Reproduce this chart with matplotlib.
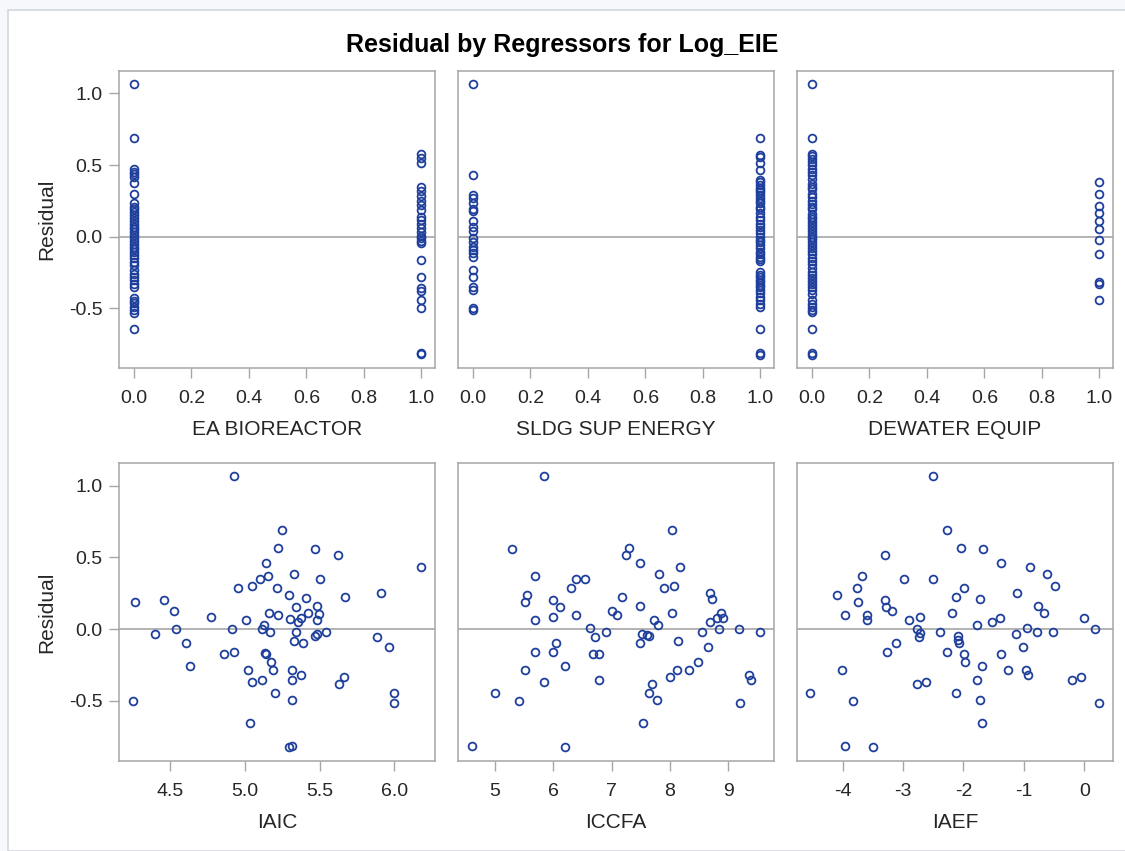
import matplotlib
matplotlib.use("Agg")
import matplotlib.pyplot as plt
from matplotlib.patches import Rectangle

plt.rcParams['font.family'] = ['Liberation Sans', 'DejaVu Sans']

# ---- data ----
title = "Residual by Regressors for Log_EIE"
top_labels = ["EA BIOREACTOR", "SLDG SUP ENERGY", "DEWATER EQUIP"]
bottom_labels = ["IAIC", "ICCFA", "IAEF"]

# indicator regressors: residuals at 0 and at 1
ea_res_0 = [1.063, 0.691, 0.472, 0.453, 0.437, 0.419, 0.377, 0.298, 0.233, 0.209,
            0.19, 0.17, 0.15, 0.13, 0.11, 0.09, 0.07, 0.05, 0.03, 0.01, -0.01,
            -0.03, -0.05, -0.07, -0.09, -0.11, -0.13, -0.15, -0.174, -0.20,
            -0.233, -0.26, -0.28, -0.30, -0.33, -0.35, -0.43, -0.449, -0.465,
            -0.493, -0.512, -0.535, -0.649]
ea_res_1 = [0.577, 0.551, 0.516, 0.349, 0.321, 0.284, 0.249, 0.221, 0.186, 0.140,
            0.116, 0.088, 0.058, 0.030, 0.007, -0.012, -0.030, -0.047, -0.160,
            -0.284, -0.360, -0.377, -0.442, -0.502, -0.814, -0.823]

sldg_res_0 = [1.063, 0.430, 0.291, 0.267, 0.237, 0.191, 0.181, 0.109, 0.067, 0.040,
              -0.012, -0.035, -0.070, -0.093, -0.112, -0.140, -0.233, -0.284,
              -0.353, -0.372, -0.500, -0.516]
sldg_res_1 = [0.691, 0.570, 0.553, 0.512, 0.465, 0.395, 0.384, 0.36, 0.343, 0.326,
              0.31, 0.291, 0.27, 0.25, 0.233, 0.21, 0.19, 0.163, 0.14, 0.116, 0.09,
              0.070, 0.045, 0.023, 0.0, -0.023, -0.04, -0.058, -0.08, -0.105, -0.12,
              -0.14, -0.155, -0.167, -0.244, -0.267, -0.285, -0.302, -0.32, -0.337,
              -0.355, -0.372, -0.395, -0.42, -0.442, -0.47, -0.493, -0.649, -0.814,
              -0.826]

dew_res_0 = [1.063, 0.691, 0.58, 0.56, 0.54, 0.52, 0.50, 0.47, 0.45, 0.43, 0.40,
             0.37, 0.35, 0.33, 0.30, 0.28, 0.25, 0.23, 0.21, 0.19, 0.16, 0.14,
             0.12, 0.10, 0.08, 0.06, 0.04, 0.02, 0.0, -0.02, -0.04, -0.06, -0.08,
             -0.10, -0.12, -0.15, -0.17, -0.19, -0.22, -0.25, -0.27, -0.29, -0.31,
             -0.33, -0.35, -0.37, -0.40, -0.44, -0.47, -0.49, -0.51, -0.53, -0.649,
             -0.814, -0.826]
dew_res_1 = [0.384, 0.298, 0.214, 0.163, 0.112, 0.051, -0.023, -0.121, -0.319,
             -0.330, -0.442]

# continuous regressors
iaic_x = [4.926, 5.245, 5.222, 5.471, 5.622, 6.178, 5.138, 5.154, 5.102, 5.328,
          5.504, 4.951, 5.044, 5.212, 5.295, 5.411, 5.672, 5.908, 4.266, 4.455,
          4.527, 4.772, 5.009, 5.163, 5.222, 5.339, 5.481, 5.493, 5.304, 5.375,
          5.355, 5.481, 5.421, 4.538, 4.915, 5.112, 5.127, 5.165, 5.342, 5.469,
          5.481, 5.542, 4.395, 5.881, 5.966, 4.608, 5.326, 5.388, 4.857, 4.926,
          5.134, 5.138, 5.174, 5.187, 4.629, 5.022, 5.315, 5.375, 5.046, 5.116,
          5.315, 5.665, 5.627, 5.198, 4.252, 5.315, 6.000, 6.000, 5.033, 5.295,
          5.317]
iaic_res = [1.063, 0.693, 0.567, 0.558, 0.519, 0.435, 0.458, 0.372, 0.349, 0.384,
            0.349, 0.286, 0.300, 0.286, 0.237, 0.214, 0.226, 0.249, 0.186, 0.200,
            0.123, 0.088, 0.063, 0.112, 0.102, 0.151, 0.163, 0.105, 0.074, 0.081,
            0.047, 0.063, 0.114, 0.002, 0.002, 0.002, 0.030, -0.023, -0.023, -0.047,
            -0.035, -0.023, -0.033, -0.058, -0.121, -0.095, -0.084, -0.095, -0.170,
            -0.158, -0.163, -0.170, -0.230, -0.281, -0.256, -0.281, -0.281, -0.319,
            -0.367, -0.353, -0.353, -0.330, -0.379, -0.442, -0.502, -0.491, -0.442,
            -0.514, -0.651, -0.821, -0.814]

iccfa_x = [5.851, 8.029, 5.303, 7.303, 7.240, 7.480, 8.171, 7.817, 5.697, 6.389,
           6.549, 6.303, 7.903, 8.063, 5.549, 5.520, 7.177, 8.691, 8.726, 6.000,
           6.126, 7.480, 5.697, 6.000, 6.389, 7.000, 7.091, 8.029, 7.720, 7.789,
           8.874, 8.800, 8.914, 8.680, 8.840, 9.177, 9.537, 6.634, 6.720, 6.903,
           7.526, 7.600, 7.640, 7.480, 8.143, 8.543, 8.657, 6.057, 5.697, 6.000,
           6.691, 6.789, 6.211, 5.520, 8.474, 8.320, 8.120, 7.994, 5.851, 6.789,
           7.691, 7.634, 7.783, 9.354, 9.389, 5.006, 5.423, 9.206, 7.543, 4.611,
           6.211]
iccfa_res = [1.063, 0.693, 0.558, 0.567, 0.519, 0.458, 0.435, 0.384, 0.372, 0.349,
             0.349, 0.286, 0.286, 0.298, 0.237, 0.186, 0.226, 0.249, 0.212, 0.200,
             0.151, 0.163, 0.063, 0.088, 0.102, 0.126, 0.102, 0.112, 0.065, 0.028,
             0.114, 0.077, 0.077, 0.051, 0.002, 0.002, -0.023, 0.005, -0.058, -0.023,
             -0.033, -0.044, -0.049, -0.095, -0.084, -0.023, -0.121, -0.095, -0.158,
             -0.158, -0.170, -0.170, -0.256, -0.281, -0.230, -0.281, -0.281, -0.330,
             -0.367, -0.353, -0.379, -0.442, -0.491, -0.319, -0.356, -0.442, -0.502,
             -0.514, -0.651, -0.812, -0.823]

iaef_x = [-2.508, -2.276, -2.044, -1.669, -3.298, -1.376, -0.906, -0.613, -0.492,
          -3.680, -2.978, -2.508, -3.768, -1.983, -2.127, -1.724, -1.105, -4.083,
          -3.740, -3.298, -3.276, -3.177, -0.762, -0.669, -3.967, -3.591, -3.591,
          -2.895, -2.713, -2.188, -1.773, -1.519, -1.398, 0.000, 0.177, -0.956,
          -2.773, -2.713, -2.740, -2.387, -2.094, -2.094, -2.066, -1.133, -0.785,
          -0.514, -1.017, -3.116, -3.265, -2.276, -1.983, -1.370, -1.978, -1.691,
          -4.006, -1.254, -0.961, -0.934, -1.773, -2.773, -2.624, -0.199, -0.050,
          -4.530, -2.127, -3.829, -1.718, 0.243, -1.690, -3.967, -3.497]
iaef_res = [1.063, 0.693, 0.567, 0.558, 0.519, 0.458, 0.435, 0.384, 0.298, 0.372,
            0.349, 0.349, 0.286, 0.286, 0.226, 0.212, 0.249, 0.237, 0.186, 0.200,
            0.151, 0.126, 0.163, 0.114, 0.102, 0.102, 0.063, 0.063, 0.088, 0.112,
            0.028, 0.051, 0.077, 0.077, 0.002, 0.005, 0.002, -0.028, -0.058, -0.023,
            -0.047, -0.077, -0.095, -0.035, -0.023, -0.023, -0.121, -0.095, -0.158,
            -0.158, -0.170, -0.170, -0.230, -0.256, -0.281, -0.281, -0.281, -0.319,
            -0.353, -0.379, -0.367, -0.353, -0.330, -0.442, -0.442, -0.502, -0.491,
            -0.514, -0.651, -0.812, -0.823]

top_ticks = [0.0, 0.2, 0.4, 0.6, 0.8, 1.0]
iaic_ticks = [4.5, 5.0, 5.5, 6.0]
iccfa_ticks = [5, 6, 7, 8, 9]
iaef_ticks = [-4, -3, -2, -1, 0]
res_ticks = [-0.5, 0.0, 0.5, 1.0]

# ---- figure ----
W, H = 1125, 851
fig = plt.figure(figsize=(W / 100, H / 100), dpi=100, facecolor='#f7f8fc')
fig.patches.append(Rectangle((8 / W, 0), 1.2, 1 - 10 / H, transform=fig.transFigure,
                             facecolor='white', edgecolor='#d3d7de', lw=1.2, zorder=-10))

MARK = '#1f3f9c'
GRAY = '#a6a6a6'
TXT = '#262626'


def rect(l, t, r, b):
    return [l / W, 1 - b / H, (r - l) / W, (b - t) / H]


cols = [(119, 435), (458, 774), (797, 1113)]
rows = [(71, 368), (463, 761)]

top_data = [(ea_res_0, ea_res_1), (sldg_res_0, sldg_res_1), (dew_res_0, dew_res_1)]
bottom_data = [(iaic_x, iaic_res, iaic_ticks, (4.157, 6.272), '%.1f'),
               (iccfa_x, iccfa_res, iccfa_ticks, (4.371, 9.783), '%d'),
               (iaef_x, iaef_res, iaef_ticks, (-4.753, 0.475), '%d')]


def style(ax, left):
    for s in ax.spines.values():
        s.set_color(GRAY)
        s.set_linewidth(1.1)
    ax.axhline(0, color=GRAY, lw=1.2, zorder=1)
    ax.set_ylim(-0.918, 1.157)
    ax.tick_params(direction='out', length=7, width=1.0, color=GRAY,
                   labelcolor=TXT, labelsize=14)
    ax.tick_params(axis='x', pad=8.5)
    ax.tick_params(axis='y', pad=5)
    if left:
        ax.set_yticks(res_ticks)
        ax.set_yticklabels(['%.1f' % v for v in res_ticks])
        ax.set_ylabel("Residual", fontsize=15, color=TXT, labelpad=9)
    else:
        ax.set_yticks([])


for i, (l, r) in enumerate(cols):
    # top row: indicator variables
    ax = fig.add_axes(rect(l, rows[0][0], r, rows[0][1]))
    res0, res1 = top_data[i]
    ax.plot([0] * len(res0), res0, 'o', ms=5.6, mfc='none', mec=MARK, mew=1.3, zorder=3)
    ax.plot([1] * len(res1), res1, 'o', ms=5.6, mfc='none', mec=MARK, mew=1.3, zorder=3)
    ax.set_xlim(-0.052, 1.047)
    ax.set_xticks(top_ticks)
    ax.set_xticklabels(['%.1f' % v for v in top_ticks])
    style(ax, i == 0)
    ax.set_xlabel(top_labels[i], fontsize=15, color=TXT, labelpad=9.5)

    # bottom row: continuous variables
    ax = fig.add_axes(rect(l, rows[1][0], r, rows[1][1]))
    xs, ys, ticks, xlim, fmt = bottom_data[i]
    ax.plot(xs, ys, 'o', ms=5.6, mfc='none', mec=MARK, mew=1.3, zorder=3)
    ax.set_xlim(*xlim)
    ax.set_xticks(ticks)
    ax.set_xticklabels([fmt % v for v in ticks])
    style(ax, i == 0)
    ax.set_xlabel(bottom_labels[i], fontsize=15, color=TXT, labelpad=9.5)

fig.text(0.5, 1 - 45 / H, title, ha='center', va='center', fontsize=18,
         fontweight='bold', color='black')

fig.savefig("out.png", dpi=100, facecolor=fig.get_facecolor())
